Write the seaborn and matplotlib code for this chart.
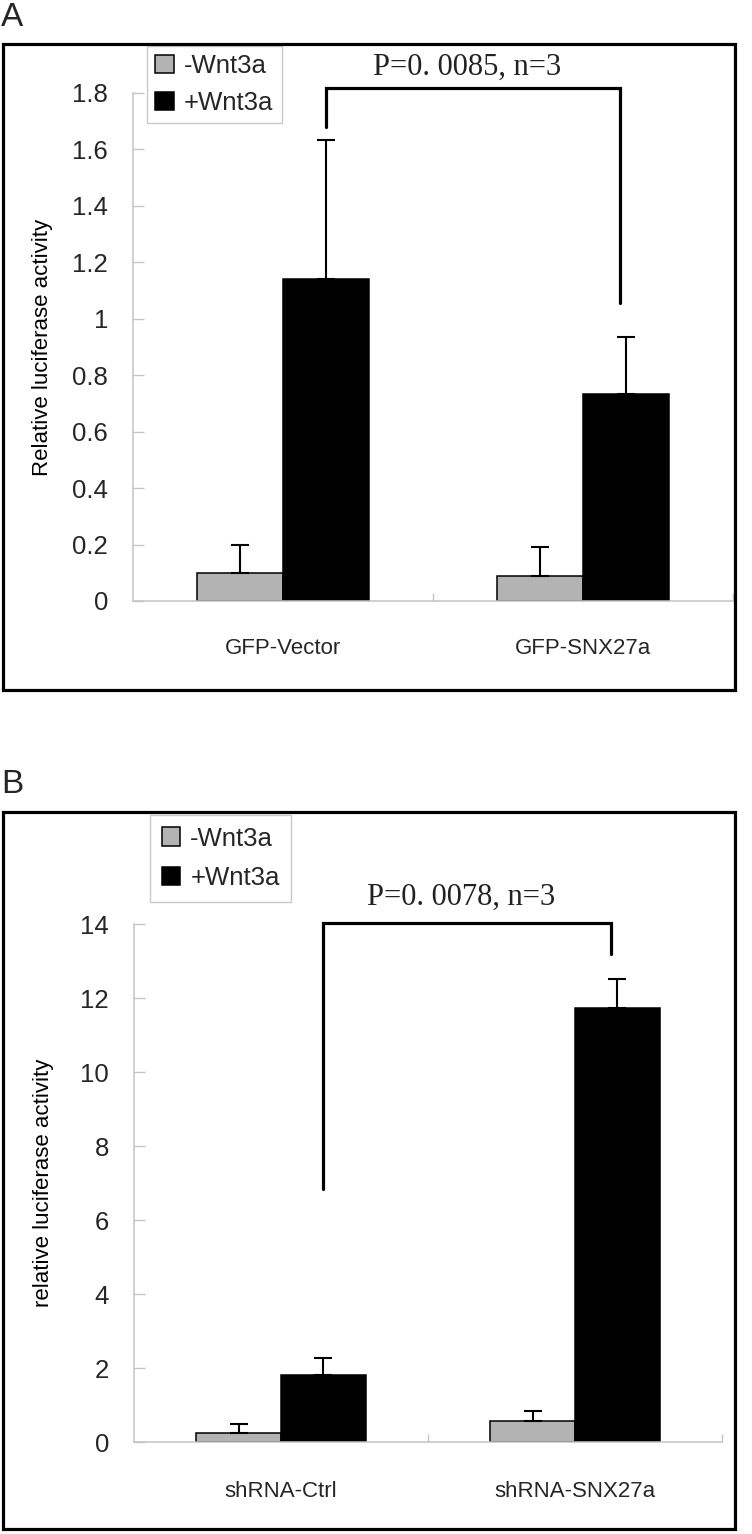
import matplotlib
matplotlib.use("Agg")
import matplotlib.pyplot as plt
import seaborn as sns
import pandas as pd
from matplotlib.patches import Rectangle, Patch

# ---------------- data ----------------
conditions = ["-Wnt3a", "+Wnt3a"]
colors = ["#b3b3b3", "#000000"]

groups_a = ["GFP-Vector", "GFP-SNX27a"]
means_a_minus = [0.10, 0.09]
means_a_plus = [1.14, 0.735]
err_a_minus = [0.10, 0.10]
err_a_plus = [0.495, 0.20]
yticks_a = [0, 0.2, 0.4, 0.6, 0.8, 1.0, 1.2, 1.4, 1.6, 1.8]
yticklabels_a = ["0", "0.2", "0.4", "0.6", "0.8", "1", "1.2", "1.4", "1.6", "1.8"]
ylabel_a = "Relative luciferase activity"
ptext_a = "P=0. 0085, n=3"
bracket_a = [1.818, 1.68, 1.056]   # top, left leg end, right leg end
ptext_y_a = 1.89

groups_b = ["shRNA-Ctrl", "shRNA-SNX27a"]
means_b_minus = [0.25, 0.57]
means_b_plus = [1.81, 11.73]
err_b_minus = [0.24, 0.27]
err_b_plus = [0.46, 0.78]
yticks_b = [0, 2, 4, 6, 8, 10, 12, 14]
yticklabels_b = ["0", "2", "4", "6", "8", "10", "12", "14"]
ylabel_b = "relative luciferase activity"
ptext_b = "P=0. 0078, n=3"
bracket_b = [14.03, 6.84, 13.2]
ptext_y_b = 14.72

# ---------------- style ----------------
sns.set_theme(style="white")
plt.rcParams['font.family'] = ['Liberation Sans', 'DejaVu Sans']

W, H = 752, 1534
fig = plt.figure(figsize=(W / 100, H / 100), dpi=100)


def fx(px):
    return px / W


def fy(py):
    return 1 - py / H


def panel(letter, letter_y, box, ax_px, groups, minus, plus, emin, eplus,
          yticks, yticklabels, ylim, ylabel, ptext, bracket, ptext_y,
          legend_px, xlabel_pad, ylabel_x, leg_spacing, leg_pad):
    x0, y0, x1, y1 = box
    fig.add_artist(Rectangle((fx(x0), fy(y1)), fx(x1) - fx(x0), fy(y0) - fy(y1),
                             transform=fig.transFigure, fill=False,
                             edgecolor="black", linewidth=2.3, zorder=10))
    fig.text(fx(1), fy(letter_y), letter, fontsize=24, ha="left", va="center")

    l, t, r, b = ax_px
    ax = fig.add_axes([fx(l), fy(b), fx(r) - fx(l), fy(t) - fy(b)])
    df = pd.DataFrame({
        "group": groups + groups,
        "condition": [conditions[0]] * len(groups) + [conditions[1]] * len(groups),
        "value": minus + plus,
    })
    sns.barplot(data=df, x="group", y="value", hue="condition",
                hue_order=conditions, order=groups, palette=colors,
                width=0.575, gap=0, errorbar=None, edgecolor="black",
                linewidth=1.1, saturation=1, legend=False, ax=ax)

    errs = [emin, eplus]
    centers = []
    for cont, err in zip(ax.containers, errs):
        xs = [bar.get_x() + bar.get_width() / 2 for bar in cont]
        ys = [bar.get_height() for bar in cont]
        centers.append(xs)
        ax.errorbar(xs, ys, yerr=[[0] * len(err), err], fmt="none",
                    ecolor="black", elinewidth=1.5, capsize=6.5,
                    capthick=1.5, zorder=1)

    ax.set_xlim(-0.5, len(groups) - 0.5)
    ax.set_ylim(*ylim)
    ax.set_yticks(yticks)
    ax.set_yticklabels(yticklabels)
    ax.set_xticks([0.5, 1.5], minor=True)
    ax.tick_params(axis="y", direction="in", length=8, width=1,
                   color="#c4c4c4", pad=18, labelsize=18.5, left=True)
    ax.tick_params(axis="x", which="major", length=0, pad=xlabel_pad,
                   labelsize=16)
    ax.tick_params(axis="x", which="minor", direction="in", length=6,
                   width=1, color="#c4c4c4", bottom=True)
    for s in ["top", "right"]:
        ax.spines[s].set_visible(False)
    for s in ["left", "bottom"]:
        ax.spines[s].set_color("#c4c4c4")
        ax.spines[s].set_linewidth(1.1)
    ax.set_xlabel("")
    ax.set_ylabel(ylabel, fontsize=16, color="black")
    ax.yaxis.set_label_coords(ylabel_x, 0.5)

    # significance bracket
    xl = centers[1][0]
    xr = centers[1][1] - 0.02
    top, lbot, rbot = bracket
    ax.plot([xl, xl, xr, xr], [lbot, top, top, rbot], color="black",
            linewidth=2.3, clip_on=False, solid_joinstyle="miter")
    ax.text((xl + xr) / 2 - 0.02, ptext_y, ptext, ha="center", va="center",
            fontsize=22, family=["Liberation Serif", "DejaVu Serif"],
            color="#222222", clip_on=False)

    handles = [Patch(facecolor=c, edgecolor="black", linewidth=1.1)
               for c in colors]
    leg = fig.legend(handles, conditions, loc="upper left",
                     bbox_to_anchor=(fx(legend_px[0]), fy(legend_px[1])),
                     bbox_transform=fig.transFigure, frameon=True,
                     fancybox=False, edgecolor="#c8c8c8", framealpha=1,
                     fontsize=18.5, handlelength=0.72, handleheight=0.72,
                     handletextpad=0.4, borderpad=leg_pad,
                     labelspacing=leg_spacing, borderaxespad=0)
    leg.get_frame().set_linewidth(1.0)
    return ax


panel("A", 18, (3, 44, 735, 690), (133, 93, 733, 601), groups_a,
      means_a_minus, means_a_plus, err_a_minus, err_a_plus,
      yticks_a, yticklabels_a, (0, 1.8), ylabel_a, ptext_a, bracket_a,
      ptext_y_a, (147, 46), 27, -0.133, 0.5, 0.32)

panel("B", 785, (3, 812, 735, 1529), (134, 924, 722, 1442), groups_b,
      means_b_minus, means_b_plus, err_b_minus, err_b_plus,
      yticks_b, yticklabels_b, (0, 14), ylabel_b, ptext_b, bracket_b,
      ptext_y_b, (150, 815), 28, -0.136, 0.6, 0.45)

fig.savefig("out.png", dpi=100)
